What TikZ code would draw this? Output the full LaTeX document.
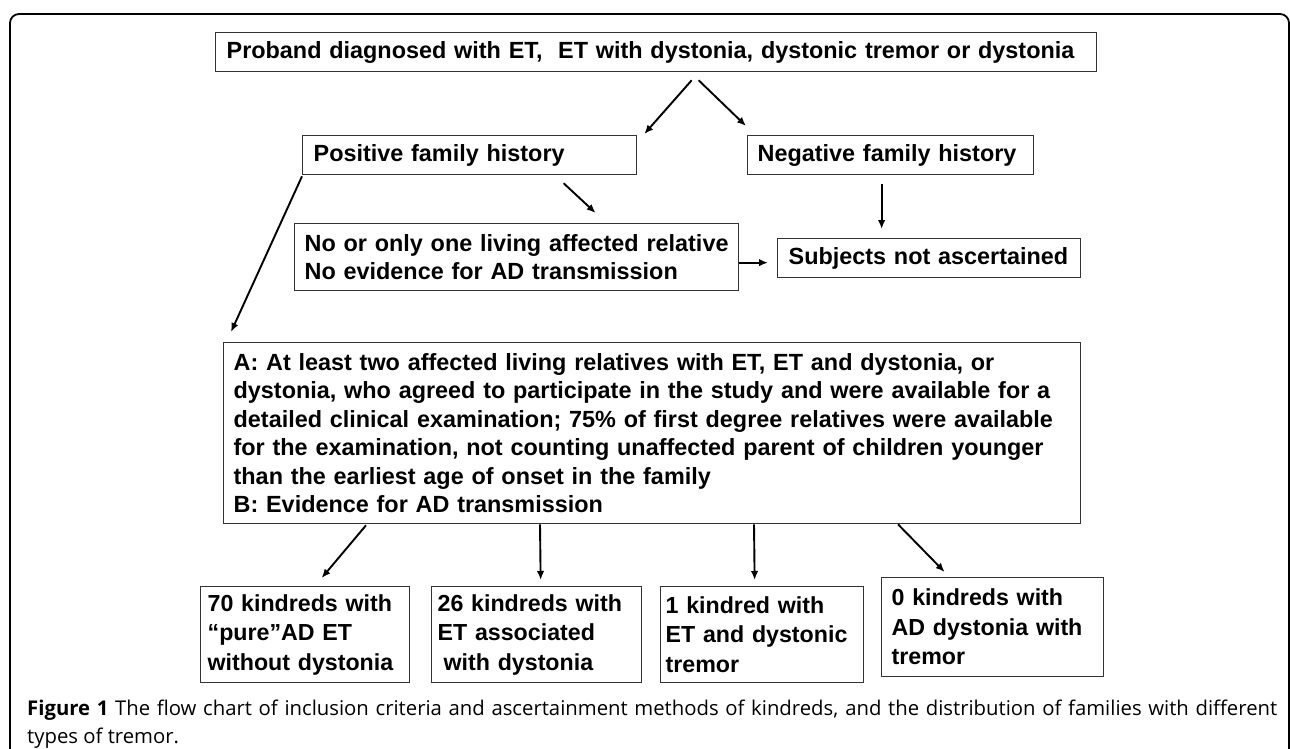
\documentclass[tikz,border=0pt]{standalone}
\usepackage{fontspec}
\setmainfont{Liberation Sans}
\newfontfamily\capfont{Open Sans}
\usetikzlibrary{arrows.meta}

\begin{document}
\begin{tikzpicture}[x=1pt,y=-1pt,
    flowbox/.style={draw=black!80, line width=1.3pt, anchor=north west, align=left,
        inner ysep=0pt, font=\fontsize{23.4}{28.5}\selectfont\bfseries},
    kinbox/.style={flowbox, font=\fontsize{23.2}{29.5}\selectfont\bfseries},
    link/.style={line width=1.9pt, -{Latex[length=9pt,width=7.5pt]}}]
    \useasboundingbox (0,0) rectangle (1290,749);
    % frame round the figure
    \draw[line width=1.8pt, rounded corners=9pt] (10,770) -- (10,14) -- (1289,14) -- (1289,770);

    \begin{scope}[every node/.style={flowbox}]
        \node[text width=859pt, inner xsep=11pt, minimum height=39pt] (proband) at (215,32)
            {\mbox{Proband diagnosed with ET,\ \ ET with dystonia, dystonic tremor or dystonia}};
        \node[text width=312pt, inner xsep=11pt, minimum height=39pt] (pos) at (302,135)
            {Positive family history};
        \node[text width=266pt, inner xsep=10pt, minimum height=39pt] (neg) at (747,135)
            {\mbox{Negative family history}};
        \node[text width=424pt, inner xsep=10pt, minimum height=67pt] (noliving) at (294,223)
            {\mbox{No or only one living affected relative}\\No evidence for AD transmission};
        \node[text width=281pt, inner xsep=11pt, minimum height=39pt] (notasc) at (777,238)
            {\mbox{Subjects not ascertained}};
        \node[text width=837pt, inner xsep=10pt, minimum height=181pt] (crit) at (223,342)
            {A: At least two affected living relatives with ET, ET and dystonia, or\\
             dystonia, who agreed to participate in the study and were available for a\\
             detailed clinical examination; 75\% of first degree relatives were available\\
             for the examination, not counting unaffected parent of children younger\\
             than the earliest age of onset in the family\\
             B: Evidence for AD transmission};
    \end{scope}

    \begin{scope}[every node/.style={kinbox}]
        \node[text width=195pt, inner xsep=7pt, minimum height=96pt] (pure) at (200,586)
            {\mbox{70 kindreds with}\\``pure''AD ET\\\mbox{without dystonia}};
        \node[text width=198pt, inner xsep=6pt, minimum height=96pt] (assoc) at (431,586)
            {\mbox{26 kindreds with}\\ET associated\\\hspace*{6pt}with dystonia};
        \node[text width=193pt, inner xsep=5pt, minimum height=96pt] (dtrem) at (660,586)
            {1 kindred with\\\mbox{ET and dystonic}\\tremor};
        \node[text width=202pt, inner xsep=10pt, minimum height=99pt] (addys) at (881,577)
            {0 kindreds with\\\mbox{AD dystonia with}\\tremor};
    \end{scope}

    \begin{scope}[every edge/.style={draw, link}]
        \draw ([shift={(35.5,8)}]proband.south) edge ([shift={(7,-1)}]pos.north east);
        \draw ([shift={(42.5,8)}]proband.south) edge ([shift={(-1,-9)}]neg.north west);
        \draw ([shift={(94,8)}]pos.south) edge ([shift={(79,-10)}]noliving.north);
        \draw ([shift={(-9,9)}]neg.south) edge ([shift={(-47.5,-9)}]notasc.north);
        \draw ([shift={(0,5.5)}]noliving.east) edge ([shift={(-9,4.5)}]notasc.west);
        \draw ([shift={(0,1)}]pos.south west) edge ([shift={(8,-10)}]crit.north west);
        \draw ([shift={(143,1)}]crit.south west) edge ([shift={(16.5,-8)}]pure.north);
        \draw ([shift={(317,0)}]crit.south west) edge ([shift={(4,-6)}]assoc.north);
        \draw ([shift={(531,0)}]crit.south west) edge ([shift={(-7.5,-6)}]dtrem.north);
        \draw ([shift={(675,0)}]crit.south west) edge ([shift={(-48,-5)}]addys.north);
    \end{scope}

    \node[anchor=north west, inner sep=0pt, text width=1250pt, align=justify,
        font=\capfont\fontsize{20.3}{28}\selectfont] (caption) at (27,700)
        {\textbf{Figure 1} The flow chart of inclusion criteria and ascertainment methods of kindreds, and the distribution of families with different\linebreak types of tremor.};
\end{tikzpicture}
\end{document}
